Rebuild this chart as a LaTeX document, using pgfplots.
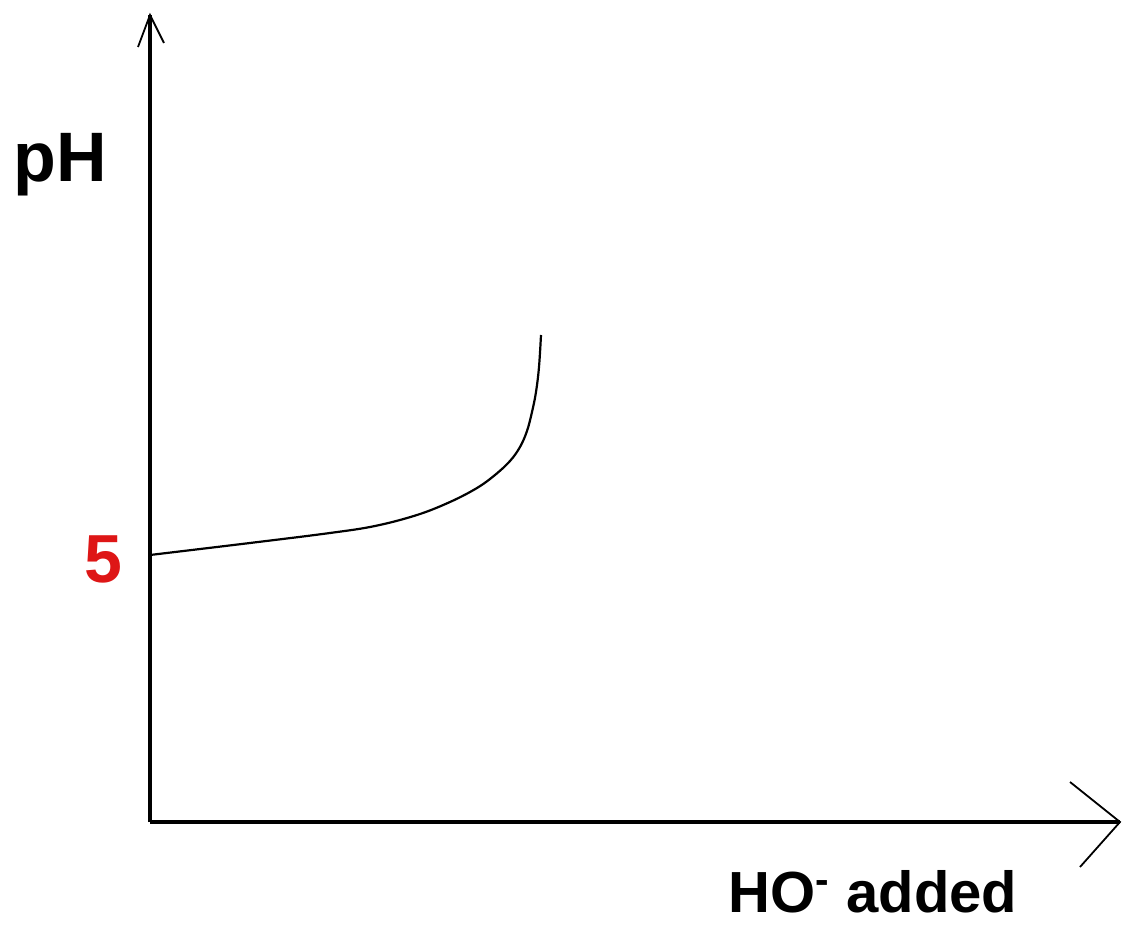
\documentclass[border=0pt]{standalone}
\usepackage{pgfplots}
\pgfplotsset{compat=1.18}
\usepackage{fontspec}
\setmainfont{Liberation Sans}
\definecolor{fiveRed}{RGB}{222,22,22}

\begin{document}
\begin{tikzpicture}
	\begin{axis}[
		scale only axis,
		x=0.5pt, y=0.5pt,
		xmin=0, xmax=970,
		ymin=0, ymax=807,
		axis lines=left,
		axis line style={line width=1.6pt, -},
		ticks=none,
		clip=false
	]
	% page frame
	\path (axis cs:-150,-103) rectangle (axis cs:973,822);

	% arrow heads
	\draw[line width=0.9pt] (axis cs:-12,775) -- (axis cs:0,807) -- (axis cs:14,779);
	\draw[line width=0.9pt] (axis cs:920,40) -- (axis cs:970,0) -- (axis cs:930,-45);

	% titration curve
	\addplot[mark=none, black, line width=1.1pt, smooth, tension=0.6] coordinates {
		(0,267)
		(100,279)
		(180,289)
		(225,296)
		(267,307)
		(300,320)
		(327,334)
		(345,347)
		(360,361)
		(370,375)
		(377,391)
		(382,410)
		(386,430)
		(389,455)
		(391,487)};

	\node[anchor=base, inner sep=0pt, font=\fontsize{35}{40}\selectfont\bfseries] at (axis cs:-90,640) {pH};
	\node[anchor=base, inner sep=0pt, text=fiveRed, font=\fontsize{34}{40}\selectfont\bfseries] at (axis cs:-47,239) {5};
	\node[anchor=base, inner sep=0pt, font=\fontsize{29}{34}\selectfont\bfseries] at (axis cs:723,-90) {HO\textsuperscript{-} added};
	\end{axis}
\end{tikzpicture}
\end{document}
